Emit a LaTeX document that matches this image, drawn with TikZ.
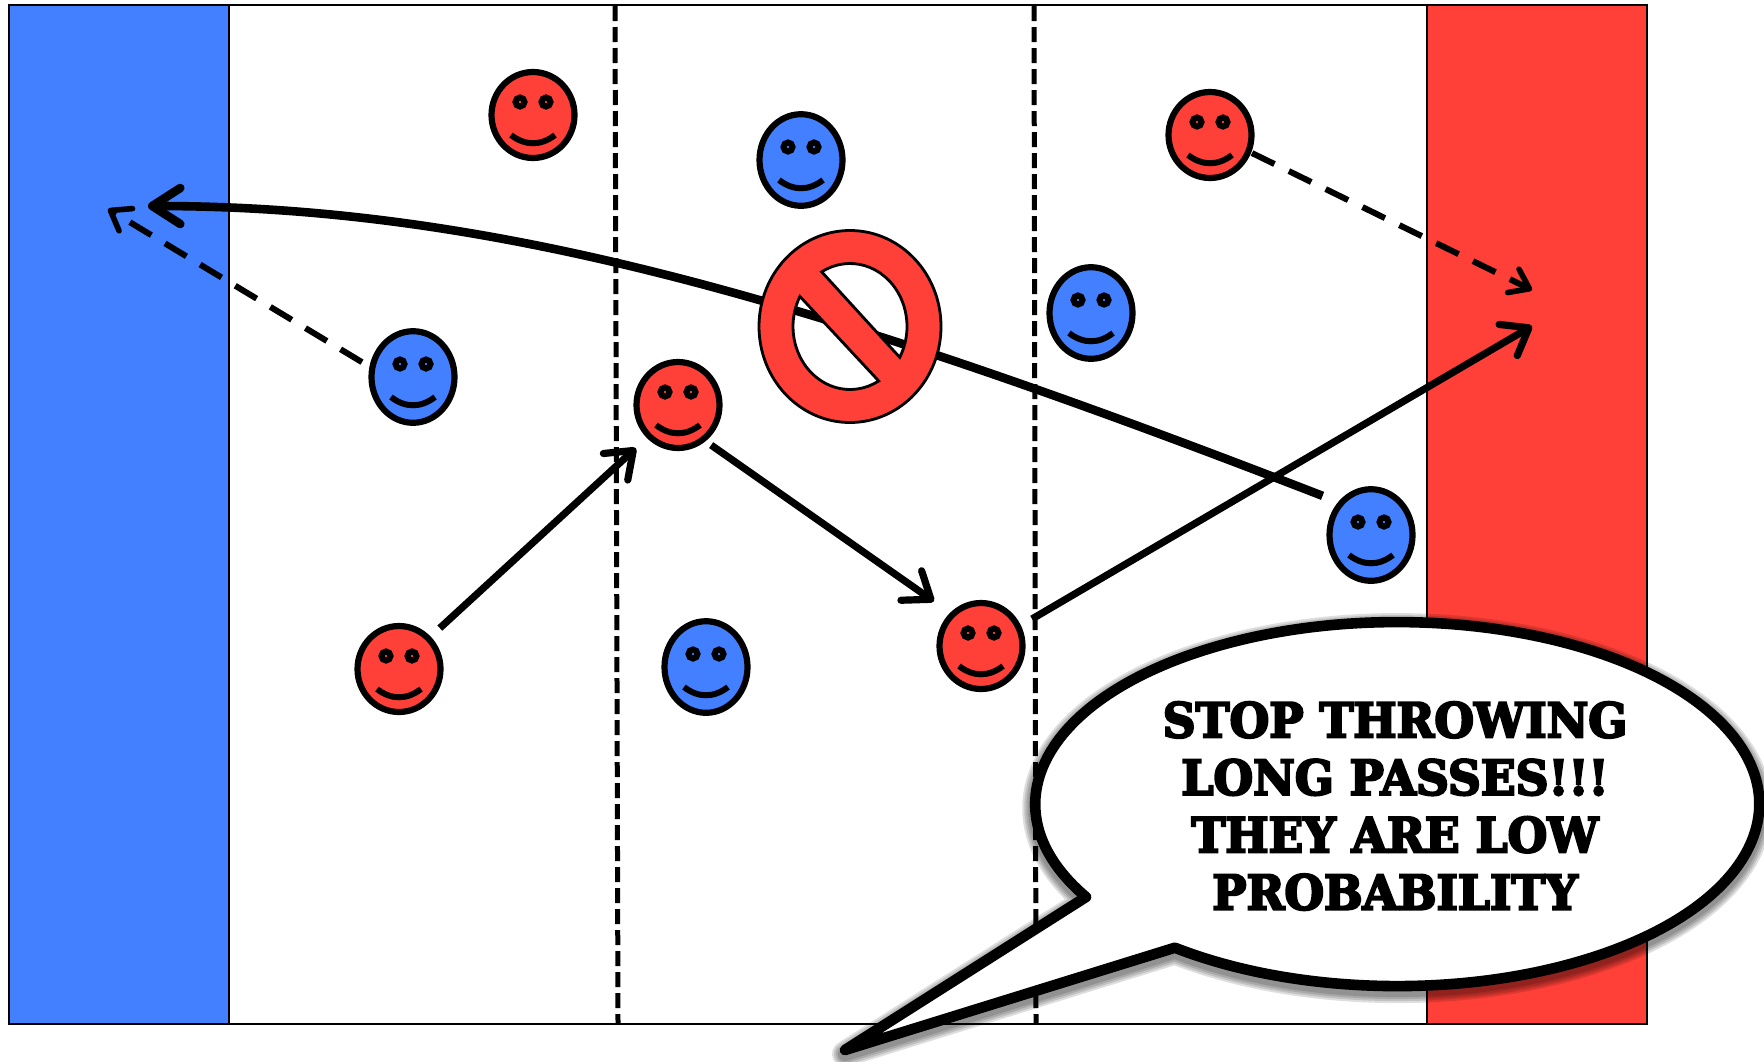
\documentclass[tikz,border=0pt]{standalone}
\usepackage{fontspec}
\usetikzlibrary{arrows.meta, shapes.geometric}
\newfontfamily\bubblefont[BoldFeatures={FakeBold=4.5,FakeStretch=0.95}]{DejaVu Serif}
\definecolor{teamblue}{RGB}{66,128,255}
\definecolor{teamred}{RGB}{255,64,56}
\newcommand{\bubblepath}{(845,1050) -- (1086,897) arc[start angle=149.3, end angle=487.9, x radius=362, y radius=182] -- cycle}

\begin{document}
\begin{tikzpicture}[
  x=0.5pt, y=-0.5pt,
  band/.style={draw, line width=1.3pt, anchor=north west, minimum width=110pt, minimum height=509.5pt, inner sep=0pt, outer sep=0pt},
  face/.style={draw, ellipse, line width=3.1pt, minimum width=41.5pt, inner sep=0pt, outer sep=0pt},
  feature/.style={line width=3pt},
  divider/.style={line width=2.5pt, dash pattern=on 7.5pt off 3pt},
  pass/.style={line width=3.6pt, -{Straight Barb[round, length=12pt, width=18pt]}},
  longpass/.style={line width=4.3pt, -{Straight Barb[round, length=14pt, width=18pt]}},
  run/.style={line width=3pt, dash pattern=on 12.5pt off 8pt, -{Straight Barb[round, length=9pt, width=13pt, line width=2.8pt]}}
]
\useasboundingbox (0,0) rectangle (1764,1061);

% field and end zones
\node[band, fill=white, minimum width=819pt] (field) at (9,5) {};
\node[band, fill=teamblue] (blueend) at (9,5) {};
\node[band, fill=teamred] (redend) at (1427,5) {};

\coordinate (lineAtop) at (615,6);
\coordinate (lineAbot) at (618,1024);
\coordinate (lineBtop) at (1034,6);
\coordinate (lineBbot) at (1036,1024);
\draw[divider] (lineAtop) -- (lineAbot);
\draw[divider] (lineBtop) -- (lineBbot);

% players
\foreach \name/\px/\py/\col/\tall in {
  redA/533/115/teamred/43, blueA/801/160/teamblue/45.8, redB/1210/135/teamred/43,
  blueB/1091/313/teamblue/45.8, blueC/413/377/teamblue/45.8, redC/678/405/teamred/43,
  blueD/1371/535/teamblue/45.8, redD/981/646/teamred/43, redE/399/669/teamred/43,
  blueE/706/667/teamblue/45.8} {
  \node[face, fill=\col, minimum height=\tall pt] (\name) at (\px,\py) {};
  \draw[feature, fill=\col] (\px-13,\py-13) circle[radius=4.5];
  \draw[feature, fill=\col] (\px+13,\py-13) circle[radius=4.5];
  \draw[feature] (\px-22,\py+20) .. controls (\px-8,\py+31) and (\px+8,\py+31) .. (\px+22,\py+20);
}

\coordinate (blueGoalA) at (148,206);
\coordinate (blueGoalB) at (108,209);
\coordinate (redGoalA) at (1532,326);
\coordinate (redGoalB) at (1532,290);

% passes
\draw[pass, shorten <=7.8pt, shorten >=9pt] (redE.46) -- (redC.227);
\draw[pass, shorten <=5pt, shorten >=11.5pt] (redC.-54) -- (redD.132);
\draw[pass, shorten <=8pt] (redD.27) -- (redGoalA);
\draw[longpass, shorten <=10pt] (blueD.133) .. controls (830,305) and (500,206) .. (blueGoalA);

% runs
\draw[run, shorten <=6pt] (blueC.168) -- (blueGoalB);
\draw[run, shorten <=2pt] (redB.-23) -- (redGoalB);

% no sign
\coordinate (nosign) at (850,326.5);
\draw[fill=teamred, even odd rule, line width=1.4pt]
  (nosign) ++(91,0) arc[start angle=0, end angle=360, x radius=91, y radius=96]
  (nosign) ++(240.2:57 and 63) arc[start angle=240.2, end angle=389.3, x radius=57, y radius=63] -- cycle
  (nosign) ++(59.8:57 and 63) arc[start angle=59.8, end angle=208.5, x radius=57, y radius=63] -- cycle;

% speech bubble
\foreach \blur in {13,11,9,7}
  \draw[line width=\blur pt, opacity=0.13, line join=round, shift={(0,4)}] \bubblepath;
\draw[fill=white, line width=5.3pt, line join=round] \bubblepath;
\node[align=center, inner sep=0pt, font=\bubblefont\bfseries\fontsize{24}{28.7}\selectfont] (shout) at (1395,806)
  {STOP THROWING\\LONG PASSES!!!\\THEY ARE LOW\\PROBABILITY};
\end{tikzpicture}
\end{document}
